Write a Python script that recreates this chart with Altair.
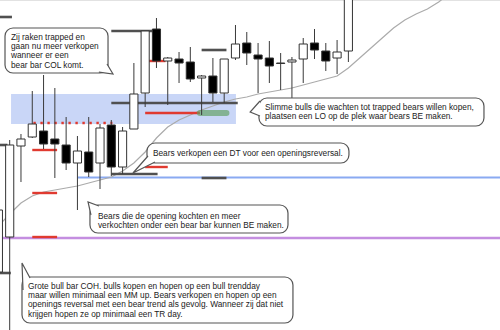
import altair as alt
import pandas as pd

# ---- candles (bar index, price units) ----
bar_idx = list(range(32))
opens  = [58, 93, 184, 193, 199, 191, 185, 167, 178, 167, 205, 163, 201, 237, 301, 269, 271, 268, 252, 254,
          237, 272, 287, 275, 272, 267, 268, 271, 287, 279, 272, 279]
highs  = [124, 190, 196, 239, 255, 242, 213, 194, 213, 206, 210, 203, 267, 299, 312, 273, 278, 283, 255, 272,
          271, 305, 298, 287, 289, 277, 273, 292, 301, 287, 290, 370]
lows   = [56, 0, 148, 192, 181, 152, 160, 120, 153, 141, 154, 156, 201, 223, 262, 225, 247, 248, 215, 228,
          227, 270, 265, 237, 247, 240, 232, 247, 271, 259, 256, 268]
closes = [120, 185, 191, 206, 186, 186, 167, 179, 158, 202, 163, 199, 236, 299, 269, 272, 267, 251, 254, 237,
          271, 286, 277, 271, 264, 266.5, 270, 286, 280, 269, 278, 360]

# ---- moving average ----
ma_idx = list(range(41))
ma_vals = [104, 116, 127, 134, 138, 140, 142, 144, 147, 150, 153, 159, 167, 178, 192, 203, 210, 215, 220, 224,
           228, 231, 233, 236, 238, 240, 242, 245, 248, 251, 254, 262, 272, 282, 292, 302, 310, 316, 321, 328, 337]

# ---- level lines ----
dark_p  = [313, 299, 280, 227, 185, 156, 152, 57]
dark_x1 = [0, 10, 18, 10, 0, 10, 18, 0]
dark_x2 = [1.2, 13.7, 20.2, 21.2, 0.8, 14.1, 20.2, 1.1]

red_p  = [269, 217, 180, 163, 137, 93]
red_x1 = [13.0, 13.0, 3.0, 13.0, 3.0, 3.0]
red_x2 = [14.8, 17.85, 5.2, 15.0, 5.2, 5.2]

dot_p, dot_x1, dot_x2 = [207], [3.1], [10.1]
green_p, green_x1, green_x2 = [217], [17.85], [20.2]
blue_p, blue_x1, blue_x2 = [152.5], [7.05], [46]
purple_p, purple_x1, purple_x2 = [92], [0], [46]
zone_x1, zone_x2, zone_lo, zone_hi = [1.12], [21.04], [206], [236]

# ---- callouts ----
bub_x1  = [0.585, 23.08, 13.16, 8.11, 2.09]
bub_x2  = [9.71, 43.01, 31.05, 25.65, 26.09]
bub_top = [302, 232, 187, 125, 53]
bub_bot = [257, 204, 167, 97, 7]

tail_b = [0, 0, 0, 1, 1, 1, 2, 2, 2, 3, 3, 3, 4, 4, 4]
tail_k = [0, 1, 2] * 5
tail_i = [9.62, 10.15, 8.9, 23.17, 22.3, 23.17, 13.25, 11.92, 13.87, 8.2, 7.94, 8.91, 2.18, 2.09, 2.8]
tail_p = [266, 256, 257.8, 229, 218, 214, 174, 157, 168, 115, 128, 124, 40, 67, 52]

txt_x = [1.116, 23.61, 13.69, 8.82, 2.62]
txt_top = [297.5, 227.5, 181.5, 118.5, 48.5]
texts = [
    "Zij raken trapped en\ngaan nu meer verkopen\nwanneer er een\nbear bar COL komt.",
    "Slimme bulls die wachten tot trapped bears willen kopen,\nplaatsen een LO op de plek waar bears BE maken.",
    "Bears verkopen een DT voor een openingsreversal.",
    "Bears die de opening kochten en meer\nverkochten onder een bear bar kunnen BE maken.",
    "Grote bull bar COH. bulls kopen en hopen op een bull trendday\nmaar willen minimaal een MM up. Bears verkopen en hopen op een\nopenings reversal met een bear trend als gevolg. Wanneer zij dat niet\nkrijgen hopen ze op minimaal een TR day.",
]

# ---- tables ----
candles = pd.DataFrame({"i": bar_idx, "o": opens, "h": highs, "l": lows, "c": closes})
candles["kind"] = ["bull" if c > o else "bear" for o, c in zip(opens, closes)]
ma = pd.DataFrame({"i": ma_idx, "v": ma_vals})

def seg(p, x1, x2):
    return pd.DataFrame({"p": p, "x1": x1, "x2": x2})

XS = alt.Scale(domain=[0.1417, 44.43], nice=False, zero=False)
YS = alt.Scale(domain=[0, 330], nice=False, zero=False)

def X(f):
    return alt.X(f, type="quantitative", scale=XS, axis=None)

def Y(f):
    return alt.Y(f, type="quantitative", scale=YS, axis=None)

def hline(df, **mk):
    return alt.Chart(df).mark_rule(clip=True, **mk).encode(x=X("x1"), x2="x2", y=Y("p"))

zone = alt.Chart(pd.DataFrame({"x1": zone_x1, "x2": zone_x2, "lo": zone_lo, "hi": zone_hi})).mark_rect(
    color="#c9d6f7", clip=True).encode(x=X("x1"), x2="x2", y=Y("lo"), y2="hi")

top_border = alt.Chart(pd.DataFrame({"p": [329.5], "x1": [0], "x2": [46]})).mark_rule(
    color="#e2e2e2", strokeWidth=1, clip=True).encode(x=X("x1"), x2="x2", y=Y("p"))

purple = hline(seg(purple_p, purple_x1, purple_x2), color="#c48ee0", strokeWidth=2.5)
blue = hline(seg(blue_p, blue_x1, blue_x2), color="#8aaaf2", strokeWidth=2)

ma_line = alt.Chart(ma).mark_line(color="#ababab", strokeWidth=1.2, clip=True).encode(x=X("i"), y=Y("v"))

dark = hline(seg(dark_p, dark_x1, dark_x2), color="#505050", strokeWidth=2.6)
red = hline(seg(red_p, red_x1, red_x2), color="#e03a30", strokeWidth=2.4)
dotted = hline(seg(dot_p, dot_x1, dot_x2), color="#e03a30", strokeWidth=2.4, strokeDash=[2.4, 4.6])
green = hline(seg(green_p, green_x1, green_x2), color="#5e9e5e", strokeWidth=6, opacity=0.65, strokeCap="round")

wicks = alt.Chart(candles).mark_rule(color="#3a3a3a", strokeWidth=1, clip=True).encode(
    x=X("i"), y=Y("l"), y2="h")
bodies = alt.Chart(candles).transform_calculate(
    xa="datum.i - 0.36", xb="datum.i + 0.36"
).mark_rect(stroke="#333333", strokeWidth=1, clip=True).encode(
    x=X("xa"), x2="xb", y=Y("o"), y2="c",
    color=alt.Color("kind:N", scale=alt.Scale(domain=["bull", "bear"], range=["#ffffff", "#000000"]), legend=None),
)

boxes = alt.Chart(pd.DataFrame({"x1": bub_x1, "x2": bub_x2, "t": bub_top, "b": bub_bot})).mark_rect(
    fill="white", stroke="#555555", strokeWidth=1.2, cornerRadius=8, clip=True
).encode(x=X("x1"), x2="x2", y=Y("b"), y2="t")

tails = alt.Chart(pd.DataFrame({"b": tail_b, "k": tail_k, "i": tail_i, "p": tail_p})).mark_line(
    fill="white", stroke="#555555", strokeWidth=1.2, clip=True
).encode(x=X("i"), y=Y("p"), detail="b:N", order="k:Q")

labels = alt.Chart(pd.DataFrame({"x": txt_x, "y": txt_top, "t": texts})).mark_text(
    align="left", baseline="top", font="Liberation Sans", fontSize=8.3, lineHeight=9.4,
    color="#222222", lineBreak="\n"
).encode(x=X("x"), y=Y("y"), text="t:N")

chart = alt.layer(
    zone, top_border, purple, blue, ma_line, dark, red, dotted, green, wicks, bodies, boxes, tails, labels
).properties(
    width=500, height=330, autosize=alt.AutoSizeParams(type="none"), padding=0
).configure_view(stroke=None)

chart.save("out.html", embed_options={"renderer": "svg", "actions": False})
